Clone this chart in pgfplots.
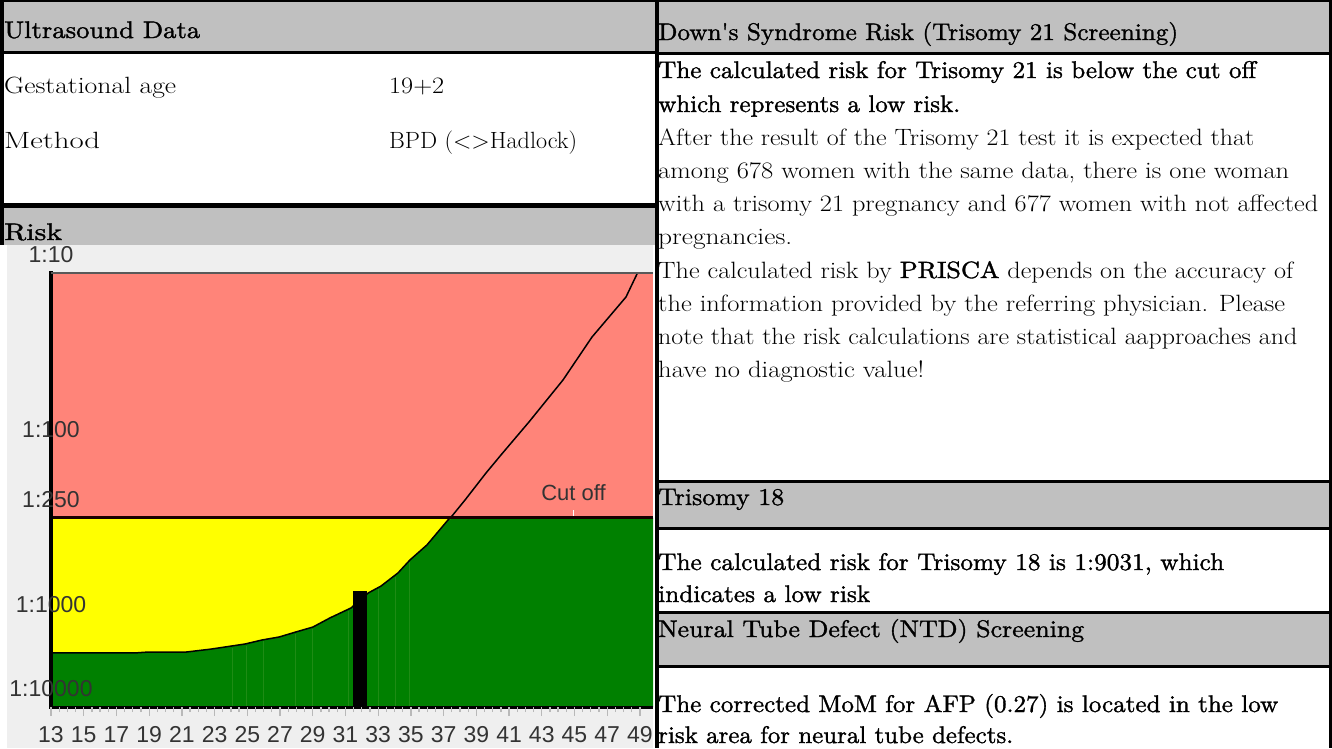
\documentclass[border=0pt]{standalone}
\usepackage{fontspec}
\usepackage{graphicx}
\usepackage{pgfplots}
\pgfplotsset{compat=1.18}
\newfontfamily\chartfont{Liberation Sans}
\newfontfamily\dark{lmroman10-regular.otf}[FakeBold=1.3]
\definecolor{hdr}{HTML}{C0C0C0}
\definecolor{cbg}{HTML}{EFEFEF}
\definecolor{rz}{HTML}{FF8479}
\definecolor{yz}{HTML}{FFFF00}
\definecolor{gz}{HTML}{008000}
\definecolor{gl}{HTML}{1E8C14}
\newcommand\RG{\fontsize{23.6}{28}\selectfont}
\newcommand\LG{\fontsize{23.5}{28}\selectfont}
\newcommand\DK{\dark\fontsize{24}{28}\selectfont}
\newcommand\TL[5]{\node[anchor=base west,inner sep=0pt,font=#5] at (#1,-#2) {\resizebox{#3pt}{\height}{#4}};}
\begin{document}
\begin{tikzpicture}[x=1pt,y=1pt]
\useasboundingbox (0,0) rectangle (1332,-748);
\fill[white] (0,0) rectangle (1332,-748);
% left column
\fill[hdr] (0,0) rectangle (655,-52);
\fill[hdr] (0,-205) rectangle (655,-245);
\fill[cbg] (7,-245) rectangle (653,-748);
% right column
\fill[hdr] (657,0) rectangle (1332,-53);
\fill[hdr] (657,-482) rectangle (1332,-528);
\fill[hdr] (657,-613) rectangle (1332,-666);
% black rules
\fill[black] (0,0) rectangle (1332,-2);
\fill[black] (0,0) rectangle (4,-245);
\fill[black] (0,-51) rectangle (655,-53.5);
\fill[black] (0,-203) rectangle (655,-208);
\fill[black] (655,0) rectangle (658.5,-748);
\fill[black] (1328.5,0) rectangle (1332,-748);
\fill[black] (655,-52) rectangle (1332,-54.5);
\fill[black] (655,-480) rectangle (1332,-483);
\fill[black] (655,-527) rectangle (1332,-530);
\fill[black] (655,-611) rectangle (1332,-614);
\fill[black] (655,-665) rectangle (1332,-668);

\begin{axis}[
  at={(51pt,-707pt)}, anchor=south west,
  scale only axis, width=602pt, height=434pt,
  xmin=13, xmax=49.8, ymin=-3.48, ymax=-1,
  clip=false, axis on top,
  axis line style={draw=none},
  xtick={13,15,...,49}, minor x tick num=3, xtick pos=bottom,
  tick align=outside, major tick length=9pt, minor tick length=5pt,
  xtick style={draw=gray!55, line width=1.3pt},
  ytick={-1,-2,-2.39794,-3,-3.48},
  yticklabels={1:10,1:100,1:250,1:1000,1:10000},
  ytick pos=left, ytick style={draw=none},
  /pgf/number format/assume math mode=true,
  ticklabel style={font=\chartfont\fontsize{23}{23}\selectfont, text=black!80},
  xticklabel style={yshift=-7pt},
  yticklabel style={anchor=center, xshift=9pt, yshift=18pt},
]
\addplot[draw=none, fill=rz] coordinates {(13,-1) (49.8,-1) (49.8,-3.48) (13,-3.48)};
\addplot[draw=none, fill=yz] coordinates {(13,-2.398) (37.8,-2.398) (37.8,-3.48) (13,-3.48)};
\addplot[draw=none, fill=gz] coordinates {(13,-3.171) (18.13,-3.171) (18.93,-3.166) (21.25,-3.166) (22.78,-3.149) (24.86,-3.12) (25.90,-3.097) (26.94,-3.08) (27.98,-3.051) (29.01,-3.023) (30.05,-2.971) (31.34,-2.914) (32.38,-2.829) (33.17,-2.789) (34.21,-2.714) (34.94,-2.64) (35.98,-2.554) (37.27,-2.411) (37.75,-2.398) (49.8,-2.398) (49.8,-3.48) (13,-3.48)};
\addplot[gl, line width=0.8pt] coordinates {(24.06,-3.48) (24.06,-3.14)};
\addplot[gl, line width=0.8pt] coordinates {(24.97,-3.48) (24.97,-3.13)};
\addplot[gl, line width=0.8pt] coordinates {(26.0,-3.48) (26.0,-3.105)};
\addplot[gl, line width=0.8pt] coordinates {(27.97,-3.48) (27.97,-3.06)};
\addplot[gl, line width=0.8pt] coordinates {(29.0,-3.48) (29.0,-3.033)};
\addplot[gl, line width=0.8pt] coordinates {(31.2,-3.48) (31.2,-2.93)};
\addplot[gl, line width=0.8pt] coordinates {(33.0,-3.48) (33.0,-2.807)};
\addplot[gl, line width=0.8pt] coordinates {(34.07,-3.48) (34.07,-2.735)};
\addplot[gl, line width=0.8pt] coordinates {(34.93,-3.48) (34.93,-2.651)};
\addplot[draw=none, fill=black] coordinates {(31.46,-3.48) (31.46,-2.817) (32.32,-2.817) (32.32,-3.48)};
\addplot[black, line width=1.5pt] coordinates {(13.0,-3.171) (18.13,-3.171) (18.93,-3.166) (21.25,-3.166) (22.78,-3.149) (24.86,-3.12) (25.90,-3.097) (26.94,-3.08) (27.98,-3.051) (29.01,-3.023) (30.05,-2.971) (31.34,-2.914) (32.38,-2.829) (33.17,-2.789) (34.21,-2.714) (34.94,-2.64) (35.98,-2.554) (37.27,-2.411) (37.5,-2.39) (38.31,-2.297) (39.59,-2.143) (40.55,-2.035) (42.22,-1.851) (44.30,-1.611) (46.07,-1.366) (48.15,-1.137) (48.85,-1.0)};
\addplot[black!90!red, line width=2.5pt] coordinates {(13,-2.398) (49.8,-2.398)};
\addplot[white, line width=1pt] coordinates {(44.95,-2.355) (44.95,-2.39)};
\draw[black, line width=3.5pt] (axis cs:13,-0.99) -- (axis cs:13,-3.49);
\draw[black, line width=3pt] (axis cs:13,-3.48) -- (axis cs:49.8,-3.48);
\draw[black!65, line width=2.5pt] (axis cs:13,-1) -- (axis cs:49.8,-1);
\node[font=\chartfont\fontsize{22}{22}\selectfont, text=black!80] at (axis cs:44.94,-2.257) {Cut off};
\end{axis}

% left column text
\TL{4}{38}{196}{Ultrasound Data}{\DK}
\TL{4}{93}{172}{Gestational age}{\LG}
\TL{4}{148}{96}{Method}{\LG}
\TL{389}{93}{55}{19+2}{\LG}
\TL{389}{148}{188}{BPD (\textless\textgreater Hadlock)}{\LG}
\TL{4}{240}{58}{Risk}{\DK}
% right column text
\TL{658}{40}{520}{Down's Syndrome Risk (Trisomy 21 Screening)}{\DK}
\TL{658}{78}{598}{The calculated risk for Trisomy 21 is below the cut off}{\DK}
\TL{658}{112}{302}{which represents a low risk.}{\DK}
\TL{658}{145}{596}{After the result of the Trisomy 21 test it is expected that}{\RG}
\TL{658}{178}{631}{among 678 women with the same data, there is one woman}{\RG}
\TL{658}{211}{660}{with a trisomy 21 pregnancy and 677 women with not affected}{\RG}
\TL{658}{244}{134}{pregnancies.}{\RG}
\TL{658}{278}{635}{The calculated risk by {\dark PRISCA} depends on the accuracy of}{\RG}
\TL{658}{311}{627}{the information provided by the referring physician. Please}{\RG}
\TL{658}{344}{639}{note that the risk calculations are statistical aapproaches and}{\RG}
\TL{658}{377}{266}{have no diagnostic value!}{\RG}
\TL{658}{505}{126}{Trisomy 18}{\DK}
\TL{658}{570}{566}{The calculated risk for Trisomy 18 is 1:9031, which}{\DK}
\TL{658}{602}{212}{indicates a low risk}{\DK}
\TL{658}{637}{426}{Neural Tube Defect (NTD) Screening}{\DK}
\TL{658}{712}{620}{The corrected MoM for AFP (0.27) is located in the low}{\DK}
\TL{658}{743}{355}{risk area for neural tube defects.}{\DK}
\end{tikzpicture}
\end{document}
